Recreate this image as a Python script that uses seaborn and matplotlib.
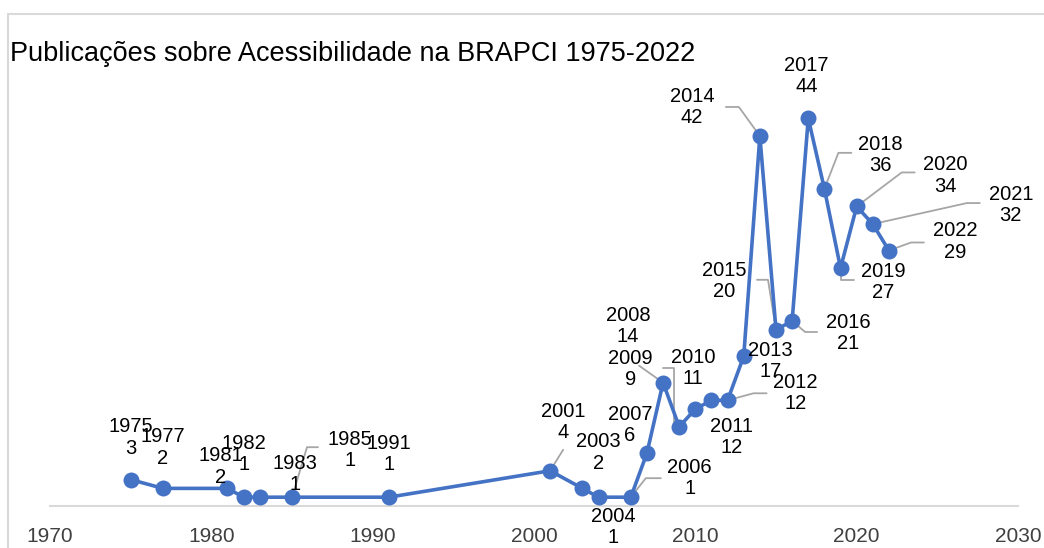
import matplotlib
matplotlib.use("Agg")
import matplotlib.pyplot as plt
from matplotlib.lines import Line2D
from matplotlib.transforms import IdentityTransform
import seaborn as sns

# Datos
anos = [1975, 1977, 1981, 1982, 1983, 1985, 1991, 2001, 2003, 2004, 2006, 2007,
        2008, 2009, 2010, 2011, 2012, 2013, 2014, 2015, 2016, 2017, 2018, 2019,
        2020, 2021, 2022]
publicacoes = [3, 2, 2, 1, 1, 1, 1, 4, 2, 1, 1, 6, 14, 9, 11, 12, 12, 17, 42,
               20, 21, 44, 36, 27, 34, 32, 29]
ticks_x = [1970, 1980, 1990, 2000, 2010, 2020, 2030]
titulo = "Publicações sobre Acessibilidade na BRAPCI 1975-2022"

# posicion de cada etiqueta (pixeles, x a la derecha, y hacia abajo)
offsets = {
    1975: (0, -42), 1977: (0, -41), 1981: (-7, -22), 1982: (0, -43),
    1983: (35, -23), 1985: (58, -47), 1991: (0, -43), 2001: (13, -49),
    2003: (16, -36), 2004: (15, 30), 2006: (59, -19), 2007: (-17, -28),
    2008: (-35, -57), 2009: (-49, -58), 2010: (-2, -41), 2011: (20, 37),
    2012: (68, -7), 2013: (27, 5), 2014: (-68, -29), 2015: (-52, -49),
    2016: (56, 12), 2017: (-2, -42), 2018: (56, -34), 2019: (43, 14),
    2020: (89, -31), 2021: (138, -19), 2022: (66, -9),
}
# lineas guia (pixeles relativos al punto)
guias = {
    1985: [(0, 0), (15, -50), (26, -50)],
    2001: [(0, 0), (13, -21)],
    2006: [(0, 0), (15, -19), (30, -19)],
    2008: [(0, 0), (-24, -17)],
    2009: [(-5, -4), (-5, -59), (-16, -59)],
    2012: [(0, 0), (26, -7), (39, -7)],
    2014: [(0, 0), (-21, -29), (-34, -29)],
    2015: [(0, 0), (-8, -50), (-19, -50)],
    2016: [(0, 0), (13, 11), (25, 11)],
    2018: [(0, 0), (14, -36), (27, -36)],
    2019: [(0, 0), (0, 12), (13, 12)],
    2020: [(0, 0), (45, -34), (58, -34)],
    2021: [(0, 0), (94, -21), (107, -21)],
    2022: [(0, 0), (22, -8), (35, -8)],
}

sns.set_theme(style="white")
plt.rcParams['font.family'] = ['Liberation Sans', 'DejaVu Sans']

W, H = 1044, 548
fig = plt.figure(figsize=(W / 100, H / 100), dpi=100)
ax = fig.add_axes([50 / W, 42 / H, 968 / W, 440.5 / H])

sns.lineplot(x=anos, y=publicacoes, marker='o', color='#4472C4', linewidth=2.6,
             markersize=11.5, markeredgewidth=0, ax=ax, zorder=3)

ax.set_xlim(1970, 2030)
ax.set_ylim(0, 50)
ax.set_xticks(ticks_x)
ax.set_yticks([])
ax.tick_params(axis='x', length=0, pad=15, labelsize=15, labelcolor='#404040')
for s in ['top', 'left', 'right']:
    ax.spines[s].set_visible(False)
ax.spines['bottom'].set_color('#d9d9d9')
ax.spines['bottom'].set_linewidth(1.5)

# etiquetas de datos
for a, v in zip(anos, publicacoes):
    dx, dy = offsets[a]
    ax.annotate(f"{a}\n{v}", xy=(a, v), xytext=(dx, -dy), textcoords='offset pixels',
                ha='center', va='center', fontsize=14.5, color='black',
                linespacing=1.15, zorder=4)

# lineas guia en coordenadas de pantalla
for a, v in zip(anos, publicacoes):
    if a in guias:
        px, py = ax.transData.transform((a, v))
        xs = [px + p[0] for p in guias[a]]
        ys = [py - p[1] for p in guias[a]]
        ax.add_line(Line2D(xs, ys, transform=IdentityTransform(), color='#a6a6a6',
                           linewidth=1.3, clip_on=False, zorder=1))

# titulo y borde del area del grafico
fig.text(10 / W, 1 - 61 / H, titulo, fontsize=19.5, color='black', va='baseline')
fig.add_artist(Line2D([8 / W, 8 / W], [0, 1 - 14 / H], color='#d9d9d9', linewidth=1.5))
fig.add_artist(Line2D([8 / W, 1], [1 - 14 / H, 1 - 14 / H], color='#d9d9d9', linewidth=1.5))

fig.savefig("out.png", dpi=100)
